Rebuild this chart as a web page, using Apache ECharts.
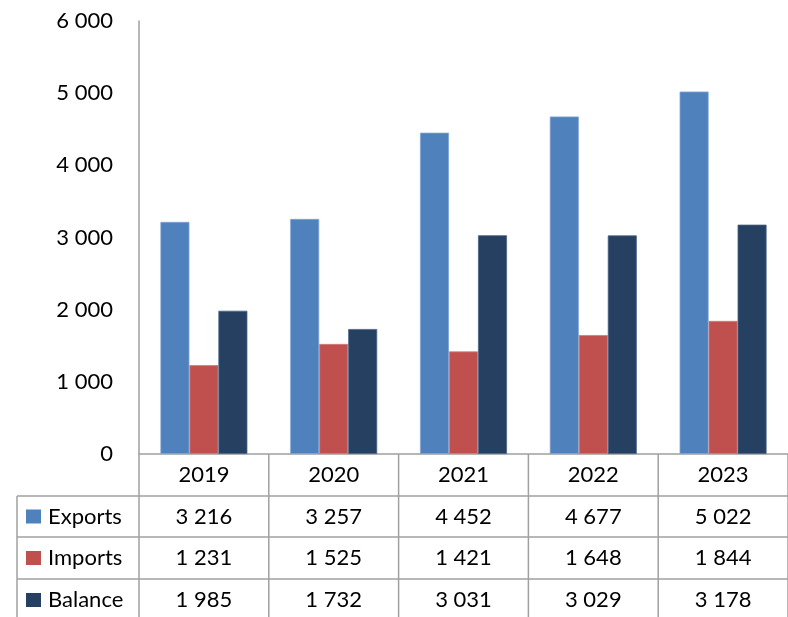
<!DOCTYPE html>
<html>
<head>
<meta charset="utf-8">
<script src="https://cdn.jsdelivr.net/npm/echarts@6/dist/echarts.min.js"></script>
<style>
  html, body { margin: 0; padding: 0; background: #fff; }
  #chart { width: 788px; height: 617px; }
</style>
</head>
<body>
<div id="chart"></div>
<script>
// Trade figures by year
const years = ['2019', '2020', '2021', '2022', '2023'];
const exportsData = [3216, 3257, 4452, 4677, 5022];
const importsData = [1231, 1525, 1421, 1648, 1844];
const balanceData = [1985, 1732, 3031, 3029, 3178];
const yTicks = [0, 1000, 2000, 3000, 4000, 5000, 6000];

const seriesNames = ['Exports', 'Imports', 'Balance'];
const seriesColors = ['#4F81BD', '#C0504D', '#254061'];
const seriesBorders = ['#7FA3D3', '#D27A77', '#4A6588'];
const seriesValues = [exportsData, importsData, balanceData];

const FONT = 'Lato';
const FS = 22;
const LINE = '#a0a0a0';

// Thousands separated by a space: 3216 -> "3 216"
function fmt(v) {
  return String(v).replace(/\B(?=(\d{3})+(?!\d))/g, ' ');
}

const chart = echarts.init(document.getElementById('chart'));

const gridTop = 21, gridLeft = 139, gridWidth = 650, gridBottom = 163;
const rowH = [42, 41, 42, 42]; // header row, then one row per series

chart.setOption({
  animation: false,
  backgroundColor: '#fff',
  grid: { left: gridLeft, top: gridTop, width: gridWidth, bottom: gridBottom, containLabel: false },
  xAxis: {
    type: 'category',
    data: years,
    axisLine: { show: true, lineStyle: { color: LINE, width: 1.5 } },
    axisTick: { show: false },
    axisLabel: {
      margin: 21,
      verticalAlign: 'middle',
      color: '#000',
      fontFamily: FONT,
      fontSize: FS
    }
  },
  yAxis: {
    type: 'value',
    min: yTicks[0],
    max: yTicks[yTicks.length - 1],
    interval: yTicks[1] - yTicks[0],
    splitLine: { show: false },
    axisTick: { show: false },
    axisLine: { show: true, lineStyle: { color: LINE, width: 1.5 } },
    axisLabel: {
      margin: 26,
      color: '#000',
      fontFamily: FONT,
      fontSize: FS,
      formatter: fmt
    }
  },
  series: seriesNames.map((name, i) => ({
    name: name,
    type: 'bar',
    data: seriesValues[i],
    barGap: 0,
    barCategoryGap: '33%',
    itemStyle: { color: seriesColors[i], borderColor: seriesBorders[i], borderWidth: 0.8 }
  }))
});

// Data table under the plot, laid out from the category axis positions
function buildTable() {
  const zeroY = chart.convertToPixel({ yAxisIndex: 0 }, 0);
  const centers = years.map((y) => chart.convertToPixel({ xAxisIndex: 0 }, y));
  const half = (centers[1] - centers[0]) / 2;
  const bounds = centers.map((c) => c - half).concat([centers[centers.length - 1] + half]);
  const tableLeft = 17;

  const rowTops = [zeroY];
  rowH.forEach((h) => rowTops.push(rowTops[rowTops.length - 1] + h));
  const bottom = 640;

  const els = [];
  const ls = { stroke: LINE, lineWidth: 1.5 };

  // vertical lines between categories, through all rows
  bounds.forEach((x) => {
    els.push({ type: 'line', shape: { x1: x, y1: zeroY, x2: x, y2: bottom }, style: ls, silent: true });
  });
  // left border of the legend column
  els.push({ type: 'line', shape: { x1: tableLeft, y1: rowTops[1], x2: tableLeft, y2: bottom }, style: ls, silent: true });
  // horizontal row separators
  for (let r = 1; r < rowTops.length; r++) {
    els.push({ type: 'line', shape: { x1: tableLeft, y1: rowTops[r], x2: bounds[bounds.length - 1], y2: rowTops[r] }, style: ls, silent: true });
  }

  seriesNames.forEach((name, i) => {
    const cy = (rowTops[i + 1] + rowTops[i + 2]) / 2;
    // legend key
    els.push({
      type: 'rect',
      shape: { x: 26, y: cy - 7, width: 15, height: 14 },
      style: { fill: seriesColors[i] },
      silent: true
    });
    els.push({
      type: 'text',
      x: 48, y: cy,
      style: { text: name, fill: '#000', font: FS + 'px ' + FONT, verticalAlign: 'middle', align: 'left' },
      silent: true
    });
    seriesValues[i].forEach((v, j) => {
      els.push({
        type: 'text',
        x: centers[j], y: cy,
        style: { text: fmt(v), fill: '#000', font: FS + 'px ' + FONT, verticalAlign: 'middle', align: 'center' },
        silent: true
      });
    });
  });

  chart.setOption({ graphic: { elements: els } });
}

buildTable();
</script>
</body>
</html>
